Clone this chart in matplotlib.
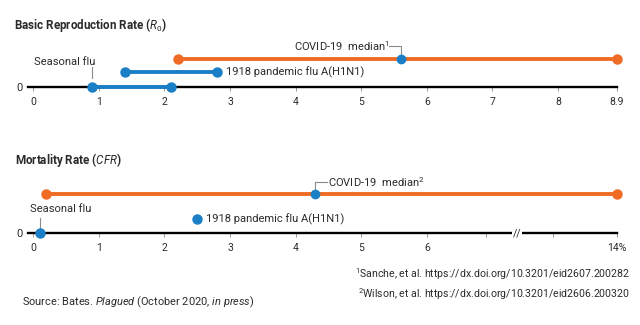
import numpy as np
import matplotlib
matplotlib.use("Agg")
import matplotlib.pyplot as plt
from matplotlib.scale import FuncScale

# ---- data ----
r0_seasonal = [0.9, 2.1]
r0_1918 = [1.4, 2.8]
r0_covid = [2.2, 8.9]
r0_covid_median = 5.6
r0_ticks = [0, 1, 2, 3, 4, 5, 6, 7, 8, 8.9]
r0_ticklabels = ["0", "1", "2", "3", "4", "5", "6", "7", "8", "8.9"]

cfr_seasonal = 0.1
cfr_1918 = 2.5
cfr_covid = [0.2, 14]
cfr_covid_median = 4.3
cfr_ticks = [0, 1, 2, 3, 4, 5, 6, 14]
cfr_ticklabels = ["0", "1", "2", "3", "4", "5", "6", "14%"]

BLUE = "#1a7fc6"
ORANGE = "#f06b25"
TXT = "#2b2b2b"
GREY = "#8a8a8a"
FONT = ["Roboto", "DejaVu Sans"]

plt.rcParams["font.family"] = FONT
plt.rcParams["mathtext.fontset"] = "custom"
plt.rcParams["mathtext.it"] = "Roboto:italic"
plt.rcParams["mathtext.rm"] = "Roboto"

fig = plt.figure(figsize=(6.4, 3.25), dpi=100)

def style_axis(ax):
    for s in ("top", "right", "left"):
        ax.spines[s].set_visible(False)
    ax.spines["bottom"].set_linewidth(1.7)
    ax.spines["bottom"].set_color("black")
    ax.set_yticks([0])
    ax.set_yticklabels(["0"], fontsize=8, color=TXT)
    ax.tick_params(axis="y", length=0, pad=4)
    ax.tick_params(axis="x", which="both", length=3, width=0.6, color=GREY,
                   labelsize=7.5, labelcolor=TXT, pad=4)
    ax.patch.set_alpha(0)

MS = 6.5
def rng(ax, xs, y, color):
    ax.plot(xs, [y, y], color=color, lw=2.8, marker="o", ms=MS,
            solid_capstyle="butt", clip_on=False, zorder=5)

# ---- top panel: R0 ----
ax1 = fig.add_axes([0.04375, 0.732, 0.9203, 0.138])
style_axis(ax1)
ax1.set_xlim(-0.08, 8.9)
ax1.set_ylim(0, 3.2)
ax1.set_xticks(r0_ticks)
ax1.set_xticklabels(r0_ticklabels)

rng(ax1, r0_seasonal, 0, BLUE)
rng(ax1, r0_1918, 1.07, BLUE)
rng(ax1, r0_covid, 2.0, ORANGE)
ax1.plot([r0_covid_median], [2.0], "o", color=BLUE, ms=MS - 0.5, zorder=6, clip_on=False)

ax1.plot([r0_seasonal[0]] * 2, [0.65, 1.4], color=GREY, lw=0.8)
ax1.text(r0_seasonal[0] + 0.05, 1.8, "Seasonal flu", ha="right", va="center",
         fontsize=8, color=TXT)
ax1.text(r0_1918[1] + 0.14, 1.07, "1918 pandemic flu A(H1N1)", ha="left",
         va="center", fontsize=8, color=TXT)
ax1.plot([r0_covid_median - 0.18, r0_covid_median, r0_covid_median],
         [2.93, 2.93, 2.3], color=GREY, lw=0.8)
ax1.text(r0_covid_median - 0.17, 2.93, r"COVID-19  median$^{1}$", ha="right",
         va="center", fontsize=8, color=TXT)

# ---- bottom panel: CFR (broken axis) ----
K = (8.9 - 6) / (14 - 6)
def fwd(x):
    x = np.asarray(x, dtype=float)
    return np.where(x <= 6, x, 6 + (x - 6) * K)
def inv(p):
    p = np.asarray(p, dtype=float)
    return np.where(p <= 6, p, 6 + (p - 6) / K)

ax2 = fig.add_axes([0.04375, 0.283, 0.9203, 0.168])
ax2.set_xscale(FuncScale(ax2, (fwd, inv)))
style_axis(ax2)
ax2.set_xlim(-0.08, 14)
ax2.set_ylim(0, 3.9)
ax2.set_xticks(cfr_ticks)
ax2.set_xticklabels(cfr_ticklabels)
ax2.set_xticks([8.5, 11.3], minor=True)
ax2.set_xticklabels(["", ""], minor=True)

rng(ax2, cfr_covid, 2.8, ORANGE)
ax2.plot([cfr_covid_median], [2.8], "o", color=BLUE, ms=MS - 0.5, zorder=6, clip_on=False)
ax2.plot([cfr_seasonal], [0], "o", color=BLUE, ms=MS, zorder=6, clip_on=False)
ax2.plot([cfr_1918], [1.0], "o", color=BLUE, ms=MS, zorder=6, clip_on=False)

ax2.plot([cfr_seasonal] * 2, [0.35, 1.1], color=GREY, lw=0.8)
ax2.text(-0.05, 1.72, "Seasonal flu", ha="left", va="center", fontsize=8, color=TXT)
ax2.text(cfr_1918 + 0.14, 1.0, "1918 pandemic flu A(H1N1)", ha="left",
         va="center", fontsize=8, color=TXT)
ax2.plot([cfr_covid_median, cfr_covid_median, cfr_covid_median + 0.18],
         [3.1, 3.64, 3.64], color=GREY, lw=0.8)
ax2.text(cfr_covid_median + 0.19, 3.64, r"COVID-19  median$^{2}$", ha="left",
         va="center", fontsize=8, color=TXT)
ax2.text(9.8, 0, "//", ha="center", va="center", fontsize=7.5, color=TXT,
         zorder=7, clip_on=False,
         bbox=dict(facecolor="white", edgecolor="none", pad=0.6))

# ---- titles ----
fig.text(0.022, 0.923, r"Basic Reproduction Rate ($R_0$)", fontsize=8.4,
         fontweight="bold", color=TXT, va="center", ha="left")
fig.text(0.023, 0.508, r"Mortality Rate ($CFR$)", fontsize=8.4,
         fontweight="bold", color=TXT, va="center", ha="left")

# ---- footnotes and source ----
fig.text(0.985, 0.157, r"$^{1}$Sanche, et al. https://dx.doi.org/10.3201/eid2607.200282",
         fontsize=7.6, color=TXT, va="center", ha="right")
fig.text(0.985, 0.095, r"$^{2}$Wilson, et al. https://dx.doi.org/10.3201/eid2606.200320",
         fontsize=7.6, color=TXT, va="center", ha="right")

fig.text(0.034, 0.068, r"Source: Bates. $\mathit{Plagued}$ (October 2020, $\mathit{in\ press}$)",
         fontsize=7.9, color=TXT, va="center", ha="left")

fig.savefig("out.png", dpi=100)
